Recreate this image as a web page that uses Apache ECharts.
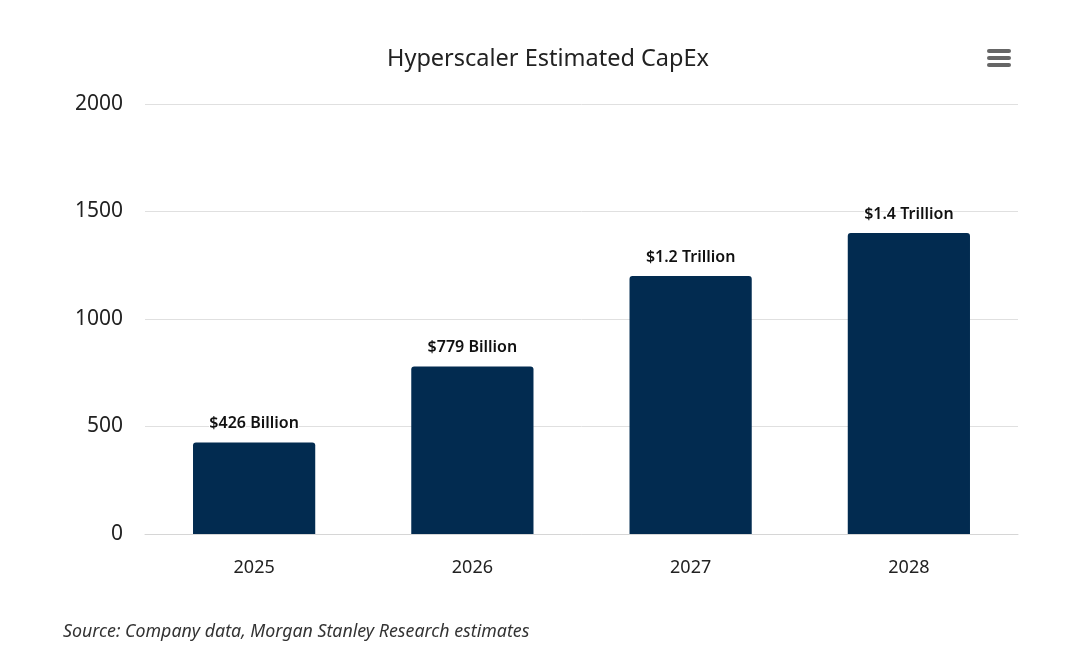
<!DOCTYPE html>
<html>
<head>
<meta charset="utf-8">
<title>Hyperscaler Estimated CapEx</title>
<script src="https://cdn.jsdelivr.net/npm/echarts@6/dist/echarts.min.js"></script>
<style>
  html, body { margin: 0; padding: 0; background: #fff; }
  #chart { width: 1080px; height: 667px; }
</style>
</head>
<body>
<div id="chart"></div>
<script>
// data
const years = ['2025', '2026', '2027', '2028'];
const capex = [426, 779, 1200, 1400];
const barLabels = ['$426 Billion', '$779 Billion', '$1.2 Trillion', '$1.4 Trillion'];
const yTicks = { min: 0, max: 2000, interval: 500 };

const chart = echarts.init(document.getElementById('chart'));

const option = {
  backgroundColor: '#ffffff',
  animation: false,
  title: {
    text: 'Hyperscaler Estimated CapEx',
    left: 382,
    top: 42,
    textStyle: { fontFamily: 'Noto Sans', fontSize: 23.5, fontWeight: 'normal', color: '#222' }
  },
  grid: { left: 145, right: 62, top: 104, bottom: 133 },
  xAxis: {
    type: 'category',
    data: years,
    axisLine: { lineStyle: { color: '#d6d6d6', width: 1 } },
    axisTick: { show: false },
    axisLabel: { margin: 25, fontFamily: 'Noto Sans', fontSize: 18, color: '#222' }
  },
  yAxis: {
    type: 'value',
    min: yTicks.min, max: yTicks.max, interval: yTicks.interval,
    axisLine: { show: false },
    axisTick: { show: false },
    splitLine: { lineStyle: { color: '#e0e0e0', width: 1 } },
    axisLabel: {
      margin: 22, fontFamily: 'Noto Sans', fontSize: 21, color: '#222',
      formatter: v => String(v)
    }
  },
  series: [{
    type: 'bar',
    data: capex,
    barWidth: '56%',
    itemStyle: { color: '#022b50', borderRadius: [3, 3, 0, 0] },
    label: {
      show: true,
      position: 'top',
      distance: 11,
      formatter: p => barLabels[p.dataIndex],
      fontFamily: 'Noto Sans',
      fontSize: 16,
      fontWeight: 600,
      color: '#111',
      textBorderColor: '#fff',
      textBorderWidth: 2
    }
  }],
  graphic: [
    // menu icon, top right
    { type: 'rect', left: 987, top: 49, shape: { width: 24, height: 4, r: 2 }, style: { fill: '#666' } },
    { type: 'rect', left: 987, top: 56, shape: { width: 24, height: 4, r: 2 }, style: { fill: '#666' } },
    { type: 'rect', left: 987, top: 63, shape: { width: 24, height: 4, r: 2 }, style: { fill: '#666' } },
    {
      type: 'text', left: 63, top: 623,
      style: {
        text: 'Source: Company data, Morgan Stanley Research estimates',
        font: 'italic 17.8px "Noto Sans"', fill: '#333'
      }
    }
  ]
};

chart.setOption(option);
</script>
</body>
</html>
